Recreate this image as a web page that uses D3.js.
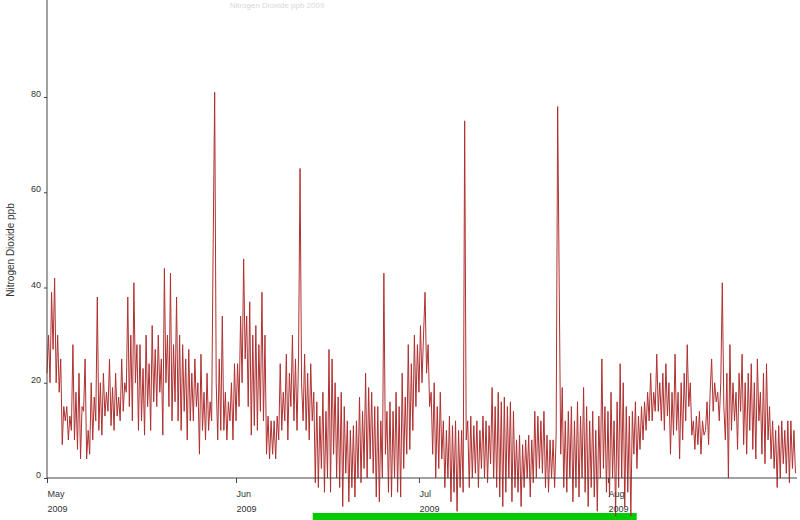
<!DOCTYPE html>
<html><head><meta charset="utf-8">
<script src="https://cdn.jsdelivr.net/npm/d3@7/dist/d3.min.js"></script>
<style>
html,body{margin:0;padding:0;background:#fff;}
svg{display:block;font-family:"Liberation Sans",Arial,sans-serif;}
</style></head>
<body><svg id="c" width="800" height="520"></svg>
<script>
// 6-hourly NO2 readings (ppb), 4 per day, starting 1 May 2009 00:00
const may = [
22,30,20,39, 27,42,20,30, 18,25,7,15, 12,15,8,13, 10,28,8,18, 6,22,4,15, 14,25,4,10, 5,20,8,17,
12,38,10,20, 9,22,13,18, 14,25,11,19, 10,22,13,17, 12,25,14,20, 18,38,15,30, 12,41,20,28, 10,28,12,23,
9,30,15,24, 10,32,16,27, 15,30,18,25, 9,44,20,30, 15,43,12,28, 16,38,12,30, 10,28,14,25, 8,27,12,22,
12,25,15,20, 5,26,10,18, 8,22,10,16, 12,49,81,20, 8,25,10,34, 10,18,8,16, 12,20,8,24
];
const jun = [
12,24,15,34, 20,46,25,34, 15,37,9,30, 11,32,10,28, 14,39,12,30, 5,13,4,12, 5,12,4,13, 8,24,10,18,
12,26,8,22, 15,30,12,25, 10,25,65,20, 12,26,10,22, 8,24,12,18, -1,16,-2,13, 2,18,-3,14, 0,27,-3,25,
5,20,0,17, -2,18,-6,15, 1,12,-5,10, -2,11,-4,12, 0,17,-1,14, 2,22,0,19, 4,18,1,15, -4,15,-5,12,
0,43,5,14, -3,16,-4,14, 0,18,-3,15, -4,22,2,17, 5,28,6,24, 10,30,15,28
];
const jul = [
18,32,20,30, 39,22,28,15, 18,5,20,0, 15,2,18,4, 12,-2,10,0, 13,-5,11,-3, 12,-7,10,-2, 10,-3,75,8,
12,-2,13,0, 11,1,12,-2, 10,2,13,0, 12,-1,11,3, 19,0,15,-2, 18,-4,16,-6, 17,-3,15,0, 16,-5,14,-2,
8,-3,9,-6, 7,-2,8,0, 9,-4,8,-1, 14,0,13,2, 12,1,14,-2, 9,-3,8,0, 8,-2,9,78, 41,5,19,-2,
12,-3,14,0, 15,-5,12,-2, 16,-4,13,0, 19,-3,15,-6, 12,-2,14,-4, 10,-7,13,0, 25,2,15,-3
];
const aug = [
14,-4,18,0, 12,-8,16,-2, 24,0,20,-6, 15,-3,13,-8, 14,5,16,2, 13,6,15,8, 16,10,18,12, 22,12,18,14,
26,14,20,12, 22,10,24,13, 20,5,18,9, 26,10,18,4, 20,8,22,12, 28,15,20,9, 12,6,13,7, 14,5,12,9,
10,16,7,18, 25,14,20,16, 18,12,20,41, 15,8,22,0, 28,10,20,12, 18,6,22,14, 26,7,20,5, 22,10,24,6,
20,4,25,12, 18,5,22,3, 24,8,15,4, 12,2,10,-2, 11,0,12,3, 10,1,12,-1, 12,2,10,1
];
const monthTicks = ["2009-05-01 00","2009-06-01 00","2009-07-01 00","2009-08-01 00"];
const monthLabels = ["May","Jun","Jul","Aug"];
const yearLabel = "2009";
const yTicks = [0,20,40,60,80];
const highlight = ["2009-06-13 14","2009-08-05 17"]; // green band under the x axis
const title = "Nitrogen Dioxide ppb 2009";
const yTitle = "Nitrogen Dioxide ppb";

const parse = d3.timeParse("%Y-%m-%d %H");
const start = parse("2009-05-01 00");
const values = may.concat(jun, jul, aug);
const data = values.map((v,i)=>({t:d3.timeHour.offset(start, 6*i), v}));

const svg = d3.select("#c");
const x = d3.scaleTime().domain([start, parse("2009-09-01 00")]).range([47, 797]);
const y = d3.scaleLinear().domain([0, 80]).range([478, 97]);

// faint title at the very top
svg.append("text").attr("x", 277).attr("y", 8).attr("text-anchor","middle")
  .attr("font-size", 8).attr("fill","#d8d8d8").text(title);

// green band
svg.append("rect")
  .attr("x", x(parse(highlight[0]))).attr("y", 513)
  .attr("width", x(parse(highlight[1])) - x(parse(highlight[0]))).attr("height", 7)
  .attr("fill", "#00cc00");

// line
svg.append("path").datum(data)
  .attr("fill","none").attr("stroke","#b03030").attr("stroke-width",1)
  .attr("d", d3.line().x(d=>x(d.t)).y(d=>y(d.v)));

// y axis
svg.append("line").attr("x1",47).attr("x2",47).attr("y1",0).attr("y2",478)
  .attr("stroke","#444").attr("stroke-width",1);
const ya = svg.append("g").attr("transform","translate(47,0)")
  .call(d3.axisLeft(y).tickValues(yTicks).tickSize(3).tickFormat(d3.format("d")));
ya.select(".domain").remove();
ya.selectAll("line").attr("stroke","#444");
ya.selectAll("text").attr("font-size",9).attr("fill","#333").attr("dy","-0.05em").attr("x",-6)
  .attr("font-family","'Liberation Sans',Arial,sans-serif");

// x axis
svg.append("line").attr("x1",47).attr("x2",797).attr("y1",478).attr("y2",478)
  .attr("stroke","#444").attr("stroke-width",1);
const xa = svg.append("g").attr("transform","translate(0,478)")
  .call(d3.axisBottom(x).tickValues(monthTicks.map(parse)).tickSize(5)
    .tickFormat((d,i)=>monthLabels[i]));
xa.select(".domain").remove();
xa.selectAll("line").attr("stroke","#444");
xa.selectAll("text").attr("font-size",9).attr("fill","#333").attr("text-anchor","start")
  .attr("y",19).attr("dy","0").attr("font-family","'Liberation Sans',Arial,sans-serif");
xa.selectAll(".tick").append("text").attr("font-size",9).attr("fill","#333")
  .attr("text-anchor","start").attr("y",34).attr("font-family","'Liberation Sans',Arial,sans-serif")
  .text(yearLabel);

// y title
svg.append("text").attr("transform","translate(14,250) rotate(-90)")
  .attr("text-anchor","middle").attr("font-size",10).attr("fill","#333").text(yTitle);
</script></body></html>
